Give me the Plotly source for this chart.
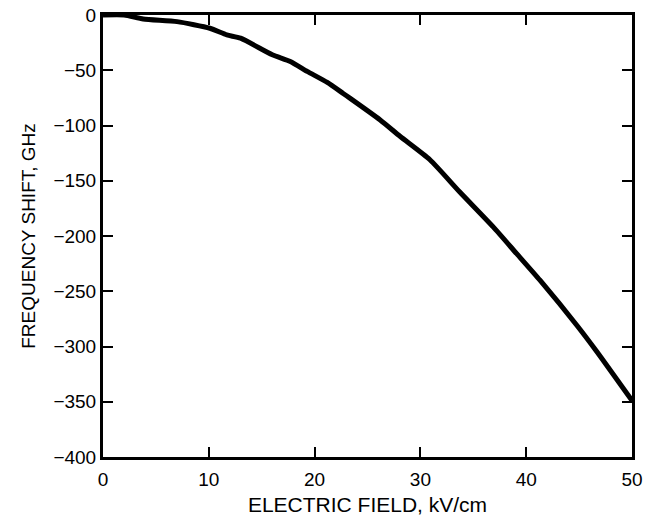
import plotly.graph_objects as go

field_kv_cm = [0, 2, 3.8, 7, 10.1, 11.7, 13, 16, 17.7, 19.3, 21.2, 22.7, 23.3, 26.2,
               28.1, 30.9, 33.7, 36.9, 39.1, 41.3, 44.8, 46.7, 50]
shift_ghz = [0, 0, -3.6, -6, -12, -18, -21, -36, -42, -51, -61, -71, -75, -95,
             -110, -131, -160, -192, -216, -240, -281, -305, -349]

x_ticks = [0, 10, 20, 30, 40, 50]
y_ticks = [0, -50, -100, -150, -200, -250, -300, -350, -400]

fig = go.Figure()
fig.add_trace(go.Scatter(x=field_kv_cm, y=shift_ghz, mode="lines",
                         line=dict(color="black", width=5, shape="spline", smoothing=0.6),
                         showlegend=False))

fam = "Liberation Sans, Arial, sans-serif"
tick_font = dict(family=fam, size=19, color="black")
axis_common = dict(showline=True, linecolor="black", linewidth=3, mirror="ticks",
                   ticks="inside", tickcolor="black", tickwidth=2, ticklen=10,
                   showgrid=False, zeroline=False, tickfont=tick_font, automargin=False,
                   ticklabeloverflow="allow")

fig.update_xaxes(range=[0, 50], tickvals=x_ticks, ticklabelstandoff=3,
                 title=dict(text="ELECTRIC FIELD, kV/cm",
                            font=dict(family=fam, size=21, color="black"), standoff=11),
                 **axis_common)
fig.update_yaxes(range=[-400, 0], tickvals=y_ticks,
                 title=dict(text="FREQUENCY SHIFT, GHz",
                            font=dict(family=fam, size=19, color="black"), standoff=13),
                 **axis_common)

fig.update_layout(width=647, height=516, plot_bgcolor="white", paper_bgcolor="white",
                  margin=dict(l=103, r=15, t=15, b=59), font=tick_font)

fig.write_html("out.html", config={"displayModeBar": False},
               post_script="document.body.style.margin='0';")
